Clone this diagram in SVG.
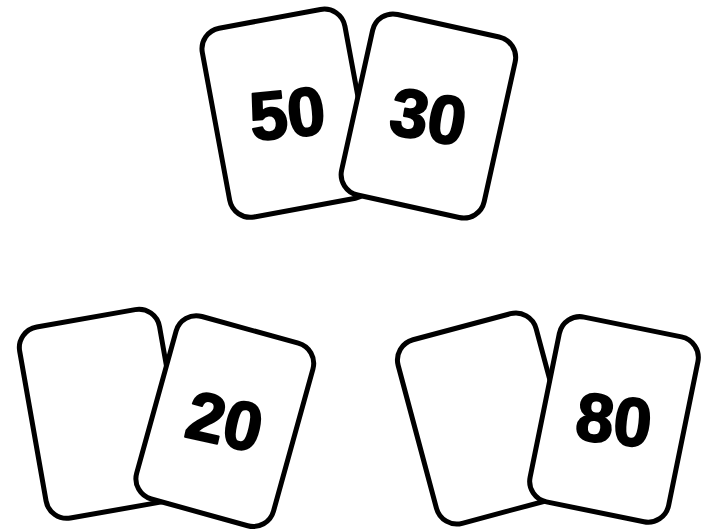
<svg xmlns="http://www.w3.org/2000/svg" width="705" height="532" viewBox="0 0 705 532">
<style>
.card{fill:#fff;stroke:#000;stroke-width:5}
.num{font-family:"Liberation Sans",Arial,sans-serif;font-weight:bold;font-size:68px;text-anchor:middle;fill:#000;stroke:#000;stroke-width:2;stroke-linejoin:round}
</style>
<rect width="705" height="532" fill="#fff"/>
<g id="card-50" transform="translate(287.3,113.2) rotate(-10.5)">
<rect class="card" x="-72.5" y="-96" width="145" height="192" rx="21"/>
<text class="num" x="0" y="24" transform="rotate(5)">50</text>
</g>
<g id="card-30" transform="translate(428.4,116) rotate(12.5)">
<rect class="card" x="-73" y="-92.5" width="146" height="185" rx="21"/>
<text class="num" x="0" y="24" transform="rotate(-3)">30</text>
</g>
<g id="card-blank-left" transform="translate(102.8,413.8) rotate(-10)">
<rect class="card" x="-71" y="-97" width="142" height="194" rx="21"/>
</g>
<g id="card-20" transform="translate(224.8,421.1) rotate(15.5)">
<rect class="card" x="-71" y="-94.7" width="142" height="189.4" rx="21"/>
<text class="num" x="0" y="24" transform="rotate(-3)">20</text>
</g>
<g id="card-blank-right" transform="translate(486.3,418.5) rotate(-15)">
<rect class="card" x="-71.4" y="-95" width="142.8" height="190" rx="21"/>
</g>
<g id="card-80" transform="translate(614,419.4) rotate(11.5)">
<rect class="card" x="-70.7" y="-94.3" width="141.4" height="188.6" rx="21"/>
<text class="num" x="0" y="24" transform="rotate(-5)">80</text>
</g>
</svg>
